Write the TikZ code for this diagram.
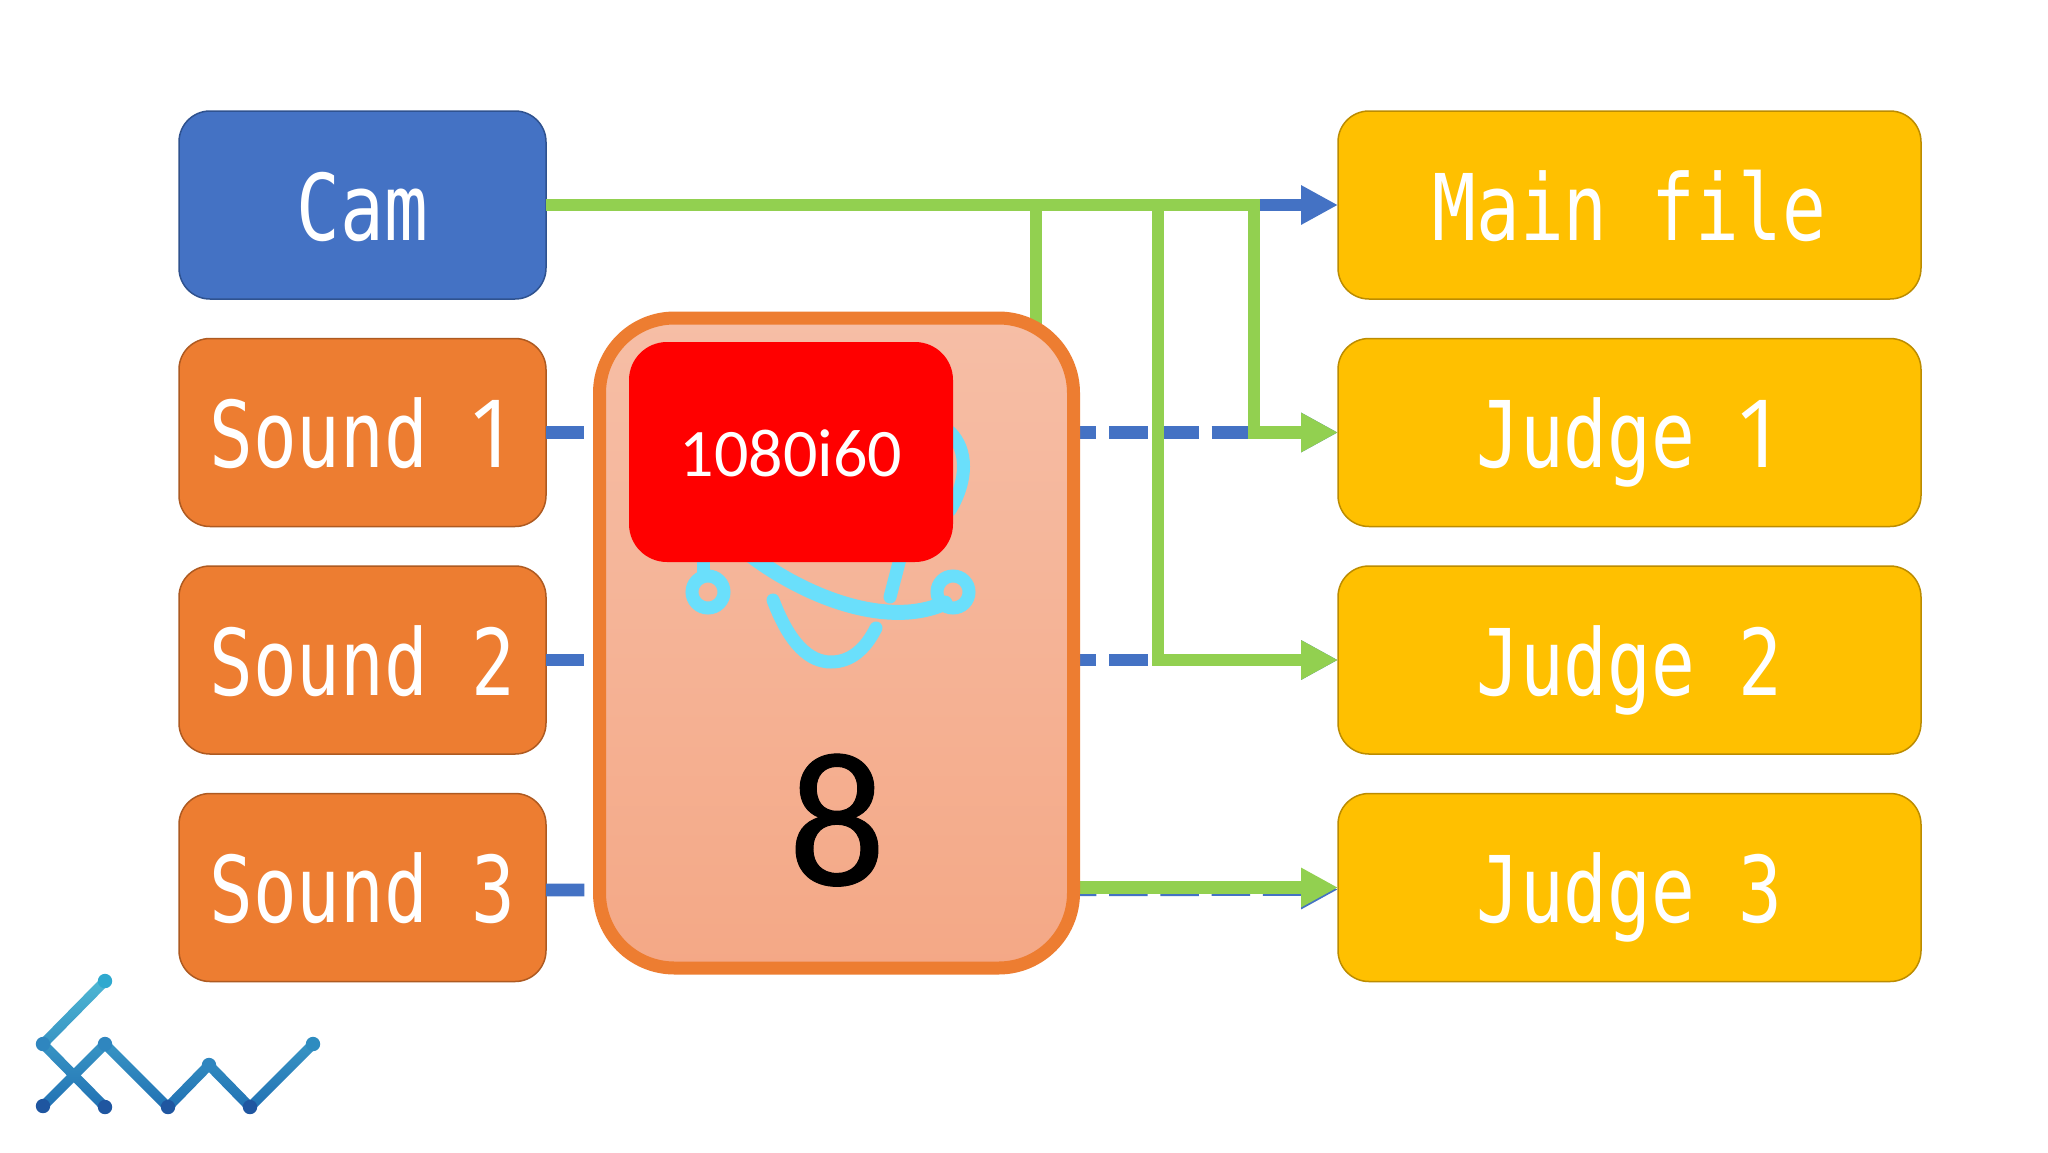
\documentclass[tikz,border=0pt]{standalone}
\usepackage{fontspec}
\usetikzlibrary{arrows.meta}
\newfontfamily\boxfont[FakeStretch=0.79]{DejaVu Sans Mono}
\newfontfamily\onefont{Open Sans}
\newfontfamily\calib{Carlito}
\newfontfamily\calibh[FakeBold=0.5]{Carlito}
\newcommand{\monoone}{\makebox[43.75pt]{\onefont\fontsize{94}{94}\selectfont 1}}
\definecolor{cblue}{HTML}{4472C4}
\definecolor{cblued}{HTML}{2F528F}
\definecolor{corange}{HTML}{ED7D31}
\definecolor{corangd}{HTML}{AE5A21}
\definecolor{cyell}{HTML}{FFC000}
\definecolor{cyelld}{HTML}{BC8C00}
\definecolor{cgreen}{HTML}{92D050}
\definecolor{ccyan}{HTML}{6ADFFB}
\definecolor{cred}{HTML}{FF0000}
\definecolor{coretop}{HTML}{F6BEA6}
\definecolor{corebot}{HTML}{F4A886}
\definecolor{cltop}{HTML}{4DB6D3}
\definecolor{clmid}{HTML}{2F88C0}
\definecolor{clbot}{HTML}{2272B4}
\tikzset{
  box/.style={rounded corners=31pt,minimum width=#1,minimum height=188pt,inner sep=0pt,outer sep=0pt,
    line width=1.5pt,text=white,font=\boxfont\fontsize{92}{92}\selectfont,text height=70pt,text depth=0pt},
  camb/.style={box=367pt,fill=cblue,draw=cblued},
  soundb/.style={box=367pt,fill=corange,draw=corangd},
  outb/.style={box=583pt,fill=cyell,draw=cyelld},
  hd/.style={-{Triangle[length=37pt,width=37pt]}},
  bluel/.style={line width=12.8pt,draw=cblue},
  bluedash/.style={bluel,dash pattern=on 38.4pt off 12.8pt},
  greenl/.style={line width=12.8pt,draw=cgreen,line join=miter},
  squig/.style={line width=13pt,draw=ccyan,line cap=round},
}
\newcommand{\logoseg}[4]{%
  \begin{scope}
    \clip (#1-7,#2) -- (#1+7,#2) -- (#3+7,#4) -- (#3-7,#4) -- cycle;
    \shade[top color=cltop,middle color=clmid,bottom color=clbot] (0,981) rectangle (340,1107);
  \end{scope}}
\begin{document}
\begin{tikzpicture}[x=1pt,y=-1pt]
\useasboundingbox (0,0) rectangle (2048,1152);
\fill[white] (0,0) rectangle (2048,1152);

% source and target boxes
\node[camb] (cam) at (362.5,205) {Cam};
\node[soundb] (s1) at (362.5,432.5) {Sound \monoone};
\node[soundb] (s2) at (362.5,660) {Sound 2};
\node[soundb] (s3) at (362.5,887.5) {Sound 3};
\node[outb] (main) at (1629.5,205) {Main file};
\node[outb] (j1) at (1629.5,432.5) {Judge \monoone};
\node[outb] (j2) at (1629.5,660) {Judge 2};
\node[outb] (j3) at (1629.5,887.5) {Judge 3};

% blue connectors
\draw[bluel,hd] (cam.east) -- (main.west);
\draw[bluedash,hd] (s1.east) -- (j1.west);
\draw[bluedash,hd] (s2.east) -- (j2.west);
\draw[bluedash,hd] ([yshift=-2.5pt]s3.east) -- ([yshift=-2pt]j3.west);

% green connectors
\coordinate (t1) at (1254,205);
\coordinate (t2) at (1158,205);
\coordinate (t3) at (1036,205);
\coordinate (t3b) at (1036,345);
\draw[greenl] (cam.east) -- ([xshift=6.4pt]t1);
\draw[greenl,hd] (t1) -- (t1 |- j1.west) -- (j1.west);
\draw[greenl,hd] (t2) -- (t2 |- j2.west) -- (j2.west);
\draw[greenl] (t3) -- (t3b);
\coordinate (g4) at (1060,887.5);
\draw[greenl,hd] (g4) -- (j3.west);

% centre box
\node[rounded corners=75pt,minimum width=474pt,minimum height=650pt,inner sep=0pt,outer sep=0pt,
  line width=13pt,draw=corange,top color=coretop,bottom color=corebot] (core) at (836.5,643) {};

% sketch inside the centre box
\draw[squig] (708,592) circle (16pt);
\draw[squig] (953,592) circle (16pt);
\draw[squig] (703,555) -- (703,575);
\draw[squig,line width=15pt] (750,555) .. controls (810,600) and (890,628) .. (945,603);
\draw[squig] (901,555) -- (890,597);
\draw[squig] (773,600) .. controls (790,645) and (810,662) .. (831,662) .. controls (850,662) and (865,650) .. (876,628);
\draw[squig] (950,432) .. controls (968,450) and (968,480) .. (950,510);

% overlays
\node[rounded corners=38pt,minimum width=324pt,minimum height=220pt,inner sep=0pt,outer sep=0pt,
  fill=cred,text=white,font=\calib\fontsize{68}{68}\selectfont,text height=48pt,text depth=0pt] (fmt) at (791,452) {1080i60};
\node[inner sep=0pt,outer sep=0pt,font=\calibh\fontsize{192}{192}\selectfont,text=black,text height=132pt,text depth=0pt] (num) at (837,819) {8};

% logo
\logoseg{105}{981}{43}{1044}
\logoseg{43}{1044}{105}{1107}
\logoseg{105}{1044}{43}{1106}
\logoseg{105}{1044}{168}{1107}
\logoseg{168}{1107}{209}{1065}
\logoseg{209}{1065}{250}{1107}
\logoseg{250}{1107}{313}{1044}
\foreach \px/\py/\pc in {105/981/2FA9CF,43/1044/2F86BF,105/1044/2F86BF,43/1106/1F56A0,105/1107/1F56A0,168/1107/1F56A0,209/1065/2F86BF,250/1107/1F56A0,313/1044/2E8CC0}{
  \definecolor{dotc}{HTML}{\pc}
  \fill[dotc] (\px,\py) circle (7.2pt);
}
\end{tikzpicture}
\end{document}
